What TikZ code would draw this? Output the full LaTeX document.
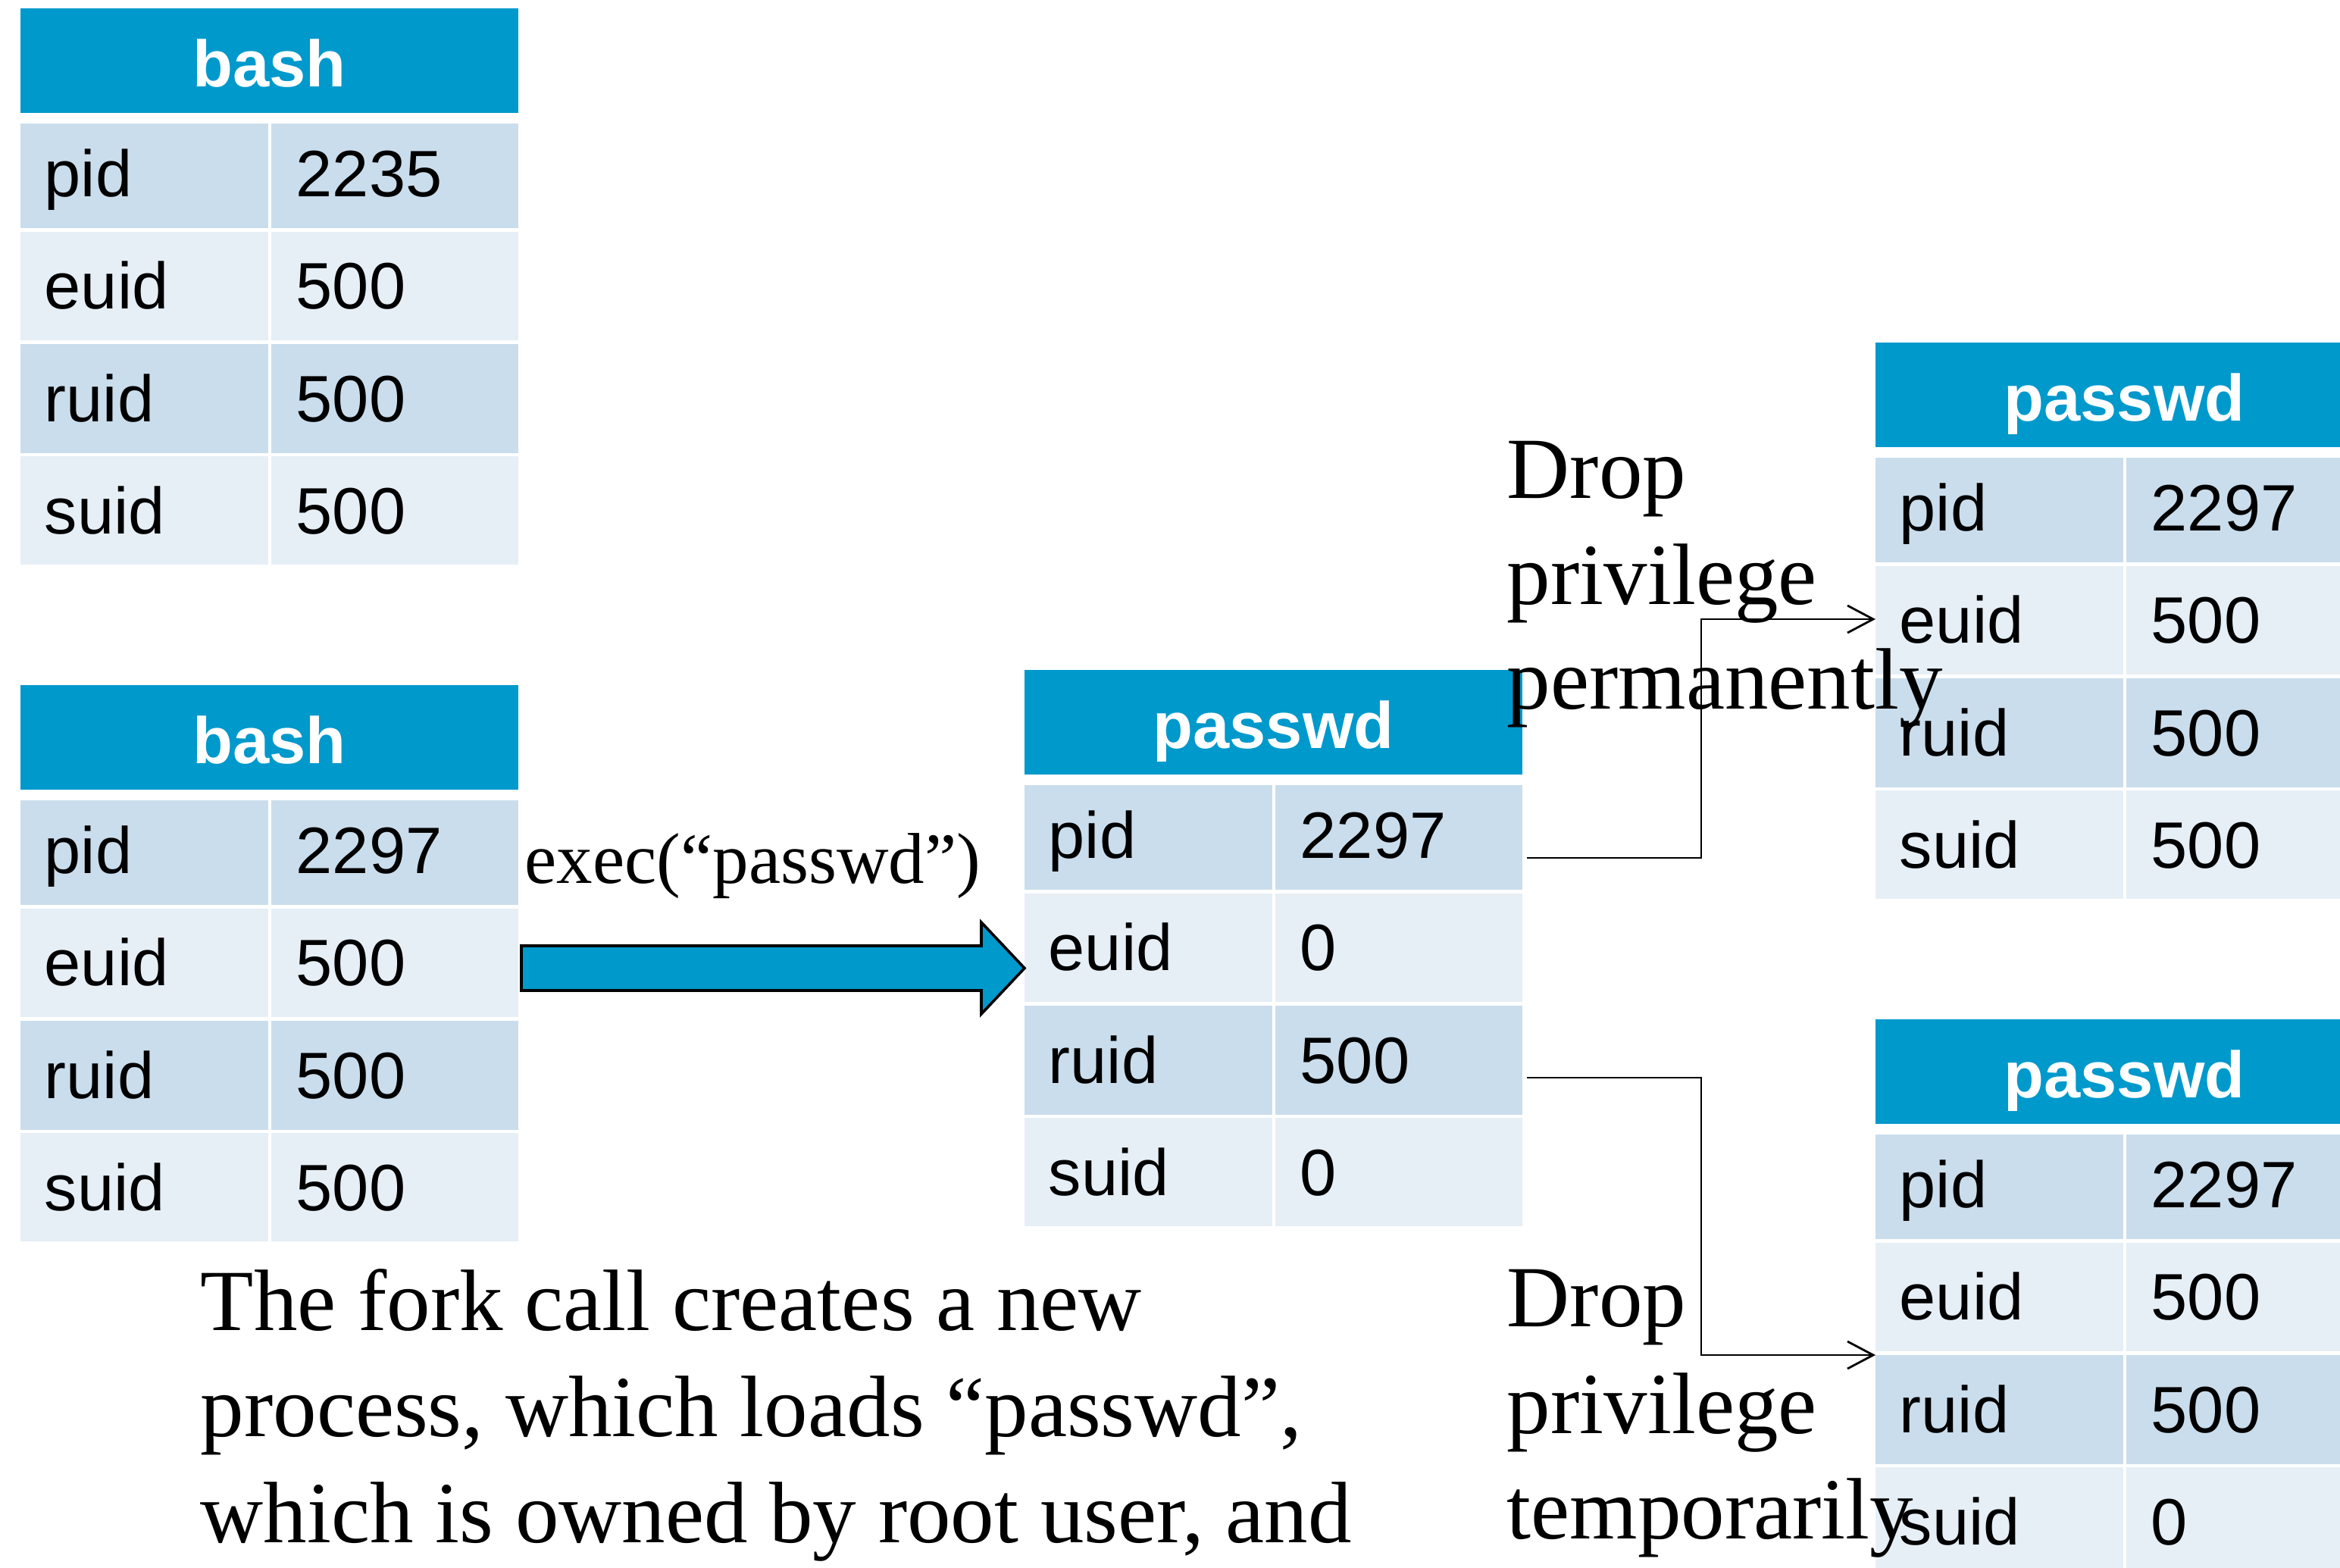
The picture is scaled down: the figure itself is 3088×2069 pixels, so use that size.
\documentclass[tikz,border=0pt]{standalone}
\usepackage{fontspec}
\setmainfont{Liberation Serif}
\newfontfamily\arialf{Liberation Sans}
\usetikzlibrary{arrows.meta,calc}
\definecolor{hdrblue}{RGB}{0,153,204}
\definecolor{banddark}{RGB}{202,221,236}
\definecolor{bandlight}{RGB}{230,239,246}
\tikzset{
  celltext/.style={anchor=base west, inner sep=0pt, font=\arialf\fontsize{21.65}{26}\selectfont, text=black},
  hdrtext/.style={anchor=base, inner sep=0pt, font=\arialf\bfseries\fontsize{21.65}{26}\selectfont, text=white},
  serifbig/.style={anchor=base west, inner sep=0pt, font=\fontsize{28.75}{34.5}\selectfont},
  serifmid/.style={anchor=base west, inner sep=0pt, font=\fontsize{23.75}{28.5}\selectfont},
  link/.style={draw=black, line width=0.7pt, -{Straight Barb[length=8.5pt,width=9pt,line width=0.7pt]}},
  blockarrow/.style={fill=hdrblue, draw=black, line width=0.9pt, line join=miter},
}
% name, L, T, title, v1..v4
\newcommand\proctable[8]{%
  \fill[hdrblue] (#2,#3) rectangle (#2+657,#3+138);
  \fill[banddark]  (#2,#3+152) rectangle (#2+327,#3+290);
  \fill[banddark]  (#2+331,#3+152) rectangle (#2+657,#3+290);
  \fill[bandlight] (#2,#3+295) rectangle (#2+327,#3+438);
  \fill[bandlight] (#2+331,#3+295) rectangle (#2+657,#3+438);
  \fill[banddark]  (#2,#3+443) rectangle (#2+327,#3+587);
  \fill[banddark]  (#2+331,#3+443) rectangle (#2+657,#3+587);
  \fill[bandlight] (#2,#3+591) rectangle (#2+327,#3+734);
  \fill[bandlight] (#2+331,#3+591) rectangle (#2+657,#3+734);
  \node[hdrtext] (#1-title) at (#2+328.5,#3+103) {#4};
  \node[celltext] (#1-k1) at (#2+31,#3+248) {pid};
  \node[celltext] (#1-v1) at (#2+363,#3+248) {#5};
  \node[celltext] (#1-k2) at (#2+31,#3+396) {euid};
  \node[celltext] (#1-v2) at (#2+363,#3+396) {#6};
  \node[celltext] (#1-k3) at (#2+31,#3+545) {ruid};
  \node[celltext] (#1-v3) at (#2+363,#3+545) {#7};
  \node[celltext] (#1-k4) at (#2+31,#3+693) {suid};
  \node[celltext] (#1-v4) at (#2+363,#3+693) {#8};
}
\begin{document}
\begin{tikzpicture}[x=0.25pt,y=-0.25pt]
\useasboundingbox (0,0) rectangle (3088,2069);
\clip (0,0) rectangle (3088,2069);
\fill[white] (0,0) rectangle (3088,2069);

\proctable{bashA}{27}{11}{bash}{2235}{500}{500}{500}
\proctable{bashB}{27}{904}{bash}{2297}{500}{500}{500}
\proctable{mid}{1352}{884}{passwd}{2297}{0}{500}{0}
\proctable{perm}{2475}{452}{passwd}{2297}{500}{500}{500}
\proctable{temp}{2475}{1345}{passwd}{2297}{500}{500}{0}

% block arrow exec
\coordinate (xa) at (688,1277.5);
\coordinate (xb) at (1352,1277.5);
\draw[blockarrow] ($(xa)+(0,-29.5)$) -- (1295,1248) -- (1295,1217) -- (xb)
  -- (1295,1338) -- (1295,1307) -- ($(xa)+(0,29.5)$) -- cycle;

% connectors
\coordinate (c1a) at (2015,1132);
\coordinate (c1b) at (2475,817);
\draw[link] (c1a) -- ++(230,0) |- (c1b);
\coordinate (c2a) at (2015,1422);
\coordinate (c2b) at (2475,1788);
\draw[link] (c2a) -- ++(230,0) |- (c2b);

% texts
\node[serifmid] (exec) at (692,1165) {exec(“passwd”)};
\node[serifbig] (dp1) at (1988,657) {Drop};
\node[serifbig] (dp2) at (1988,797) {privilege};
\node[serifbig] (dp3) at (1988,935) {permanently};
\node[serifbig] (dt1) at (1988,1750) {Drop};
\node[serifbig] (dt2) at (1988,1891) {privilege};
\node[serifbig] (dt3) at (1988,2030) {temporarily};
\node[serifbig] (m1) at (264,1755) {The fork call creates a new};
\node[serifbig] (m2) at (264,1895) {process, which loads “passwd”,};
\node[serifbig] (m3) at (264,2035) {which is owned by root user, and};
\end{tikzpicture}
\end{document}
